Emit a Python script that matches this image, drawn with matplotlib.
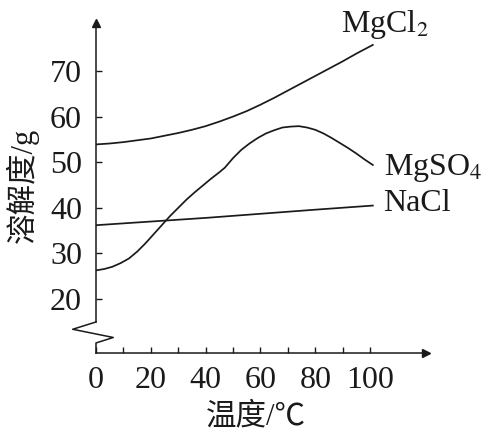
import matplotlib.pyplot as plt

plt.rcParams['font.family'] = ['Liberation Serif', 'Noto Sans CJK SC']
plt.rcParams['mathtext.fontset'] = 'stix'

# 温度 (℃) 与溶解度 (g) 读图数据
t_mgcl2 = [0, 5, 10, 15, 20, 25, 30, 35, 40, 45, 50, 55, 60, 65, 70, 75,
           80, 85, 90, 95, 101]
s_mgcl2 = [53.9, 54.1, 54.4, 54.8, 55.2, 55.8, 56.4, 57.1, 57.9, 58.9, 60.0,
           61.2, 62.6, 64.1, 65.7, 67.3, 68.9, 70.5, 72.1, 73.8, 75.7]

t_mgso4 = [0, 3, 6, 9, 12, 15, 18, 21, 24, 27, 30, 33, 36, 39, 42, 45, 47, 50,
           53, 56, 59, 62, 65, 68, 71, 74, 77, 80, 83, 86, 89, 92, 95, 98, 101]
s_mgso4 = [26.3, 26.6, 27.1, 27.9, 28.9, 30.4, 32.2, 34.2, 36.2, 38.2, 40.0, 41.8,
           43.4, 44.9, 46.4, 47.8, 48.8, 50.9, 52.7, 54.1, 55.3, 56.3, 57.0, 57.6,
           57.8, 57.9, 57.6, 57.1, 56.3, 55.3, 54.2, 53.1, 51.9, 50.6, 49.4]

t_nacl = [0, 20, 40, 60, 80, 101]
s_nacl = [36.2, 37.0, 37.8, 38.7, 39.6, 40.5]

x_ticks = [0, 20, 40, 60, 80, 100]
x_minor = [10, 30, 50, 70, 90]
y_ticks = [20, 30, 40, 50, 60, 70]

# 纵轴断裂折线
brk_x = [0, -8.5, 6.3, 0, 0]
brk_y = [15.0, 13.4, 11.6, 10.4, 8.2]

fig = plt.figure(figsize=(4.91, 4.43), dpi=100)
ax = fig.add_axes([96 / 491, 1 - 353 / 443, 330 / 491, 330 / 443])
ax.set_xlim(0, 120.4)
ax.set_ylim(8.2, 80.5)

c = '#1a1a1a'
lw = 1.25
ax.plot(t_mgcl2, s_mgcl2, color=c, lw=lw)
ax.plot(t_mgso4, s_mgso4, color=c, lw=lw)
ax.plot(t_nacl, s_nacl, color=c, lw=lw)

ax.text(89.4, 78.6, r'MgCl$_2$', fontsize=23, va='baseline', ha='left', color=c)
ax.text(105.1, 47.2, r'MgSO$_4$', fontsize=23, va='baseline', ha='left', color=c)
ax.text(104.7, 39.4, 'NaCl', fontsize=23, va='baseline', ha='left', color=c)

# 坐标轴
for s in ['top', 'right']:
    ax.spines[s].set_visible(False)
ax.spines['left'].set_bounds(15.0, 80.5)
for s in ['left', 'bottom']:
    ax.spines[s].set_color(c)
    ax.spines[s].set_linewidth(1.1)
ax.plot(brk_x, brk_y, color=c, lw=1.1, clip_on=False)
ax.plot(1, 0, '>', color=c, ms=6, transform=ax.transAxes, clip_on=False)
ax.plot(0, 1, '^', color=c, ms=6, transform=ax.transAxes, clip_on=False)

ax.set_xticks(x_ticks)
ax.set_xticks(x_minor, minor=True)
ax.set_yticks(y_ticks)
ax.tick_params(axis='both', which='both', direction='in', length=4, width=1,
               colors=c, labelsize=23)
ax.tick_params(axis='y', pad=10)
ax.tick_params(axis='x', pad=9)

ax.set_xlabel('温度/℃', fontsize=22, color=c)
ax.set_ylabel('溶解度/g', fontsize=22, color=c)
ax.xaxis.set_label_coords(0.485, -0.15)
ax.yaxis.set_label_coords(-0.174, 0.509)

fig.savefig('out.png', dpi=100)
